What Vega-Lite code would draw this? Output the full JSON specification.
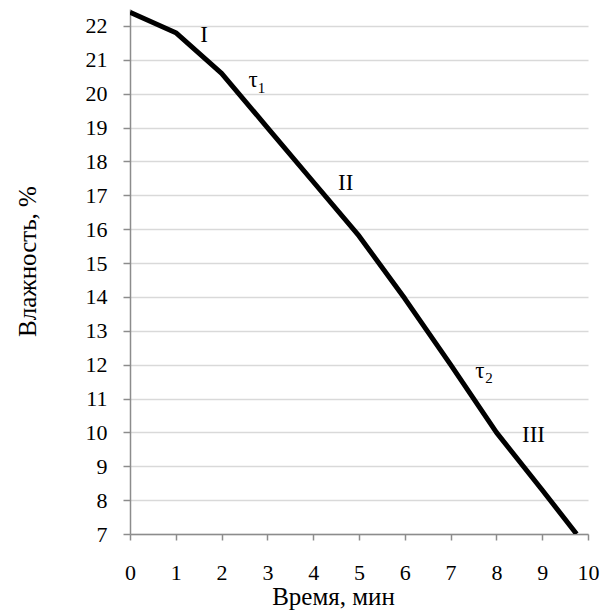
{
  "$schema": "https://vega.github.io/schema/vega-lite/v6.json",
  "width": 458,
  "height": 525,
  "autosize": "none",
  "padding": {"left": 130, "top": 9, "right": 28, "bottom": 78},
  "background": "white",
  "config": {
    "view": {"stroke": null},
    "axis": {"labelFont": "Liberation Serif", "labelFontSize": 22, "labelColor": "black", "labelFlush": false, "labelOverlap": false}
  },
  "datasets": {
    "curve": [
      {"t": 0, "w": 22.4},
      {"t": 1, "w": 21.8},
      {"t": 2, "w": 20.6},
      {"t": 3, "w": 19.0},
      {"t": 4, "w": 17.4},
      {"t": 5, "w": 15.8},
      {"t": 6, "w": 13.95},
      {"t": 7, "w": 12.0},
      {"t": 8, "w": 10.0},
      {"t": 9, "w": 8.3},
      {"t": 9.75, "w": 7.0}
    ],
    "labels": [
      {"t": 1.62, "w": 21.73, "label": "I"},
      {"t": 2.69, "w": 20.41, "label": "τ"},
      {"t": 4.71, "w": 17.36, "label": "II"},
      {"t": 7.64, "w": 11.8, "label": "τ"},
      {"t": 8.81, "w": 9.92, "label": "III"}
    ],
    "subs": [
      {"t": 2.87, "w": 20.18, "label": "1"},
      {"t": 7.84, "w": 11.6, "label": "2"}
    ]
  },
  "encoding": {
    "x": {
      "field": "t", "type": "quantitative",
      "scale": {"domain": [0, 10], "nice": false, "zero": false},
      "axis": {
        "title": "Время, мин",
        "tickCount": 10,
        "grid": false,
        "labelFont": "Liberation Serif", "labelFontSize": 22, "labelOverlap": false, "labelFlush": false,
        "titleFont": "Liberation Serif", "titleFontSize": 25, "titleColor": "black", "titleFontWeight": "normal",
        "domainColor": "#8c8c8c", "domainWidth": 1.5,
        "tickColor": "#8c8c8c", "tickWidth": 1.5, "tickSize": 6,
        "labelPadding": 22,
        "titleX": 203, "titleY": 70, "titleBaseline": "alphabetic", "titleAnchor": "middle", "titleAlign": "center",
        "encode": {"labels": {"update": {"font": {"value": "Liberation Serif"}, "fontSize": {"value": 22}, "fill": {"value": "black"}}}}
      }
    },
    "y": {
      "field": "w", "type": "quantitative",
      "scale": {"domain": [7, 22.5], "nice": false, "zero": false},
      "axis": {
        "title": "Влажность, %",
        "tickCount": 16,
        "grid": true, "gridColor": "#d9d9d9", "gridWidth": 1.5,
        "labelFont": "Liberation Serif", "labelFontSize": 22, "labelOverlap": false, "labelFlush": false,
        "titleFont": "Liberation Serif", "titleFontSize": 25, "titleColor": "black", "titleFontWeight": "normal",
        "domainColor": "#8c8c8c", "domainWidth": 1.5,
        "tickColor": "#8c8c8c", "tickWidth": 1.5, "tickSize": 7,
        "labelPadding": 16,
        "titleY": 252, "titleX": -103, "titleBaseline": "middle", "titleAnchor": "middle", "titleAlign": "center",
        "encode": {"labels": {"update": {"font": {"value": "Liberation Serif"}, "fontSize": {"value": 22}, "fill": {"value": "black"}}}}
      }
    }
  },
  "layer": [
    {
      "data": {"name": "curve"},
      "mark": {"type": "line", "color": "black", "strokeWidth": 5, "strokeJoin": "round", "clip": true}
    },
    {
      "data": {"name": "labels"},
      "mark": {"type": "text", "font": "Liberation Serif", "fontSize": 23, "color": "black", "align": "center", "baseline": "middle"},
      "encoding": {"text": {"field": "label"}}
    },
    {
      "data": {"name": "subs"},
      "mark": {"type": "text", "font": "Liberation Serif", "fontSize": 15, "color": "black", "align": "center", "baseline": "middle"},
      "encoding": {"text": {"field": "label"}}
    }
  ]
}
